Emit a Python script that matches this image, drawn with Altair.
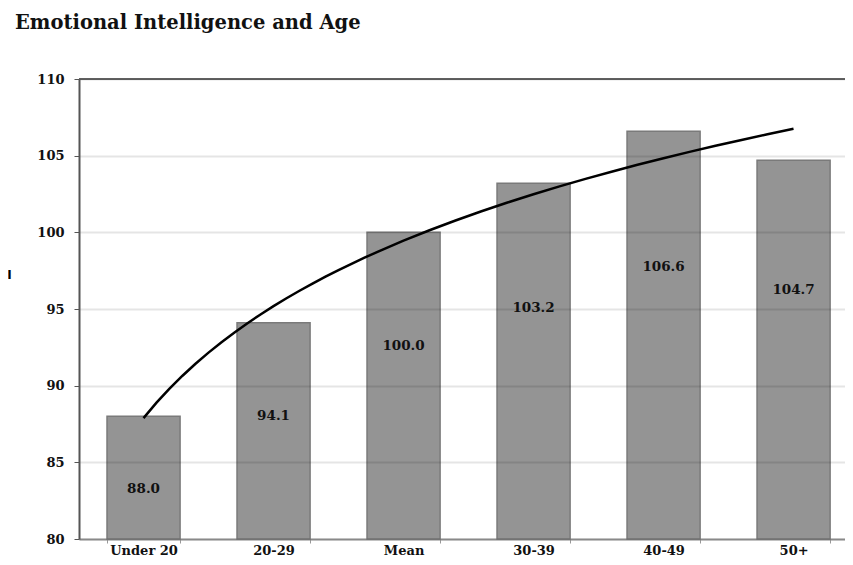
import altair as alt
import pandas as pd

categories = ["Under 20", "20-29", "Mean", "30-39", "40-49", "50+"]
values = [88.0, 94.1, 100.0, 103.2, 106.6, 104.7]

df = pd.DataFrame({
    "category": categories,
    "value": values,
    "idx": list(range(1, len(categories) + 1)),
})

W, H = 766, 460
SERIF = "DejaVu Serif"

band_scale = alt.Scale(paddingInner=0.438, paddingOuter=0.165, align=0.653)

x_band = alt.X(
    "category:N",
    sort=categories,
    scale=band_scale,
    axis=alt.Axis(
        title=None, labelAngle=0, labelFont=SERIF, labelFontWeight="bold",
        labelFontSize=13, labelColor="#111", labelPadding=1,
        tickBand="extent", tickColor="#999", tickSize=4, tickWidth=1,
        domainColor="#999", domainWidth=2, grid=False,
    ),
)
y_scale = alt.Scale(domain=[80, 110], nice=False, zero=False)
y_axis = alt.Axis(
    values=[80, 85, 90, 95, 100, 105, 110],
    title="I", titleAngle=0, titleX=-70, titleY=202, titleAlign="center",
    titleBaseline="bottom", titleFont="DejaVu Sans", titleFontWeight="bold",
    titleFontSize=12, titleColor="#000",
    labelFont=SERIF, labelFontWeight="bold", labelFontSize=13, labelColor="#111",
    labelPadding=10, tickColor="#555", tickSize=5, domainColor="#555",
    domainWidth=2, grid=True, gridColor="#000", gridOpacity=0.1, gridWidth=2,
    zindex=1,
)

base = alt.Chart(df)

bars = base.mark_bar(color="#949494", stroke="#7a7a7a", strokeWidth=1.5).encode(
    x=x_band,
    y=alt.Y("value:Q", scale=y_scale, axis=y_axis),
    y2=alt.datum(80),
)

labels = base.transform_calculate(
    label_y="datum.value * 0.78 + 14.6"
).mark_text(font=SERIF, fontWeight="bold", fontSize=13.5, color="#111",
            baseline="middle").encode(
    x=x_band,
    y=alt.Y("label_y:Q"),
    text=alt.Text("value:Q", format=".1f"),
)

bar_layer = alt.layer(bars, labels)

trend = base.transform_regression(
    "idx", "value", method="log"
).mark_line(color="#000", strokeWidth=2.5).encode(
    x=alt.X("idx:Q", scale=alt.Scale(domain=[0.5038, 6.396], nice=False, zero=False), axis=None),
    y=alt.Y("value:Q"),
)

top = alt.Chart(df).mark_rule(color="#666", strokeWidth=2).encode(
    x=alt.value(0), x2=alt.value(W), y=alt.value(0)
)

chart = alt.layer(bar_layer, trend, top).resolve_scale(
    x="independent"
).properties(
    width=W, height=H,
    autosize="none",
    padding={"left": 71, "top": 71, "right": 0, "bottom": 18},
    title=alt.TitleParams(
        "Emotional Intelligence and Age", anchor="start", frame="group",
        font=SERIF, fontSize=19.5, fontWeight="bold", color="#111",
        dx=-64, offset=40,
    ),
).configure_view(stroke=None)

chart.save("out.html", embed_options={"renderer": "svg", "actions": False})
